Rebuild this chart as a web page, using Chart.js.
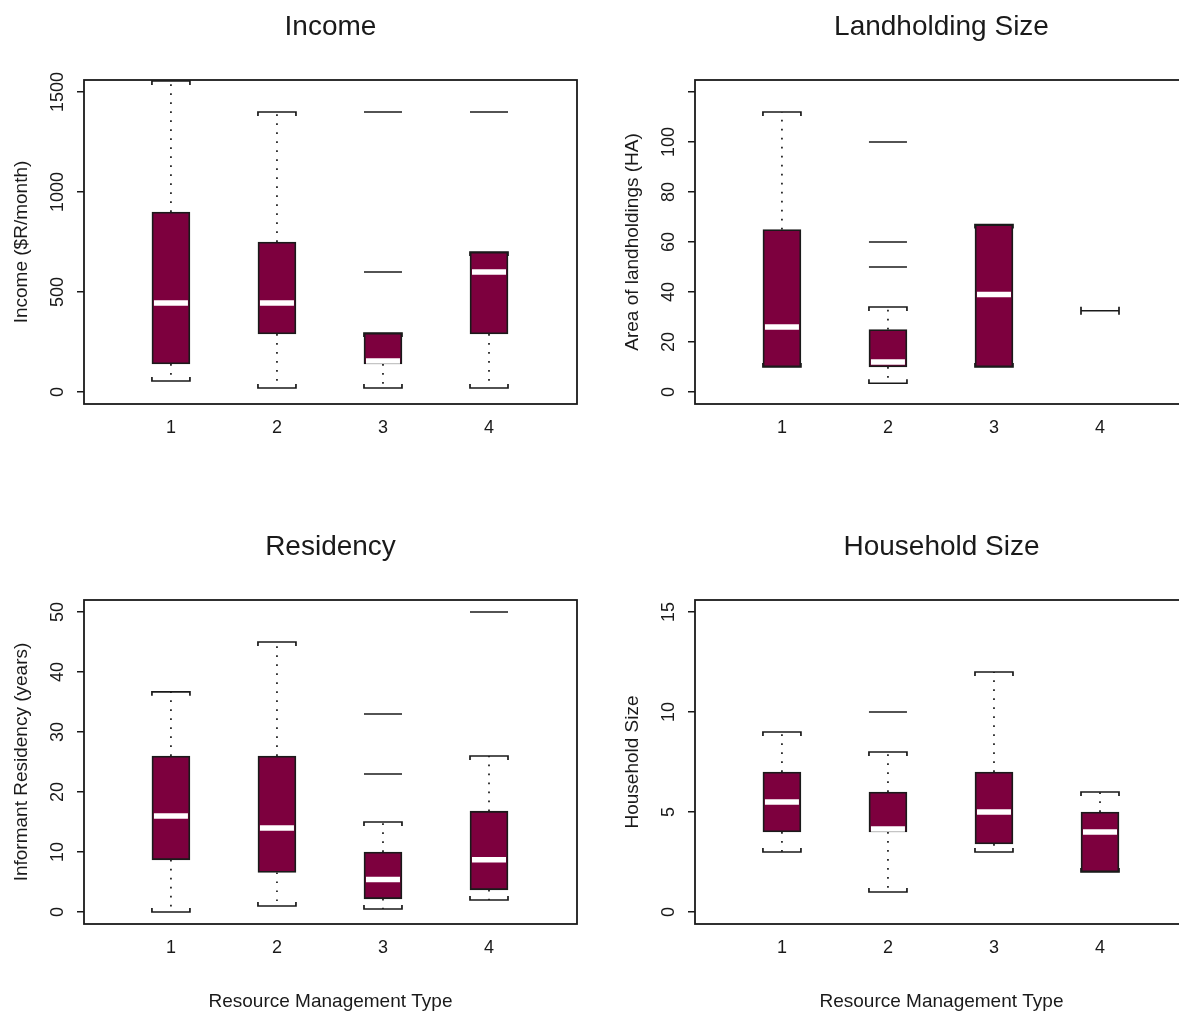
<!DOCTYPE html>
<html>
<head>
<meta charset="utf-8">
<script src="https://cdn.jsdelivr.net/npm/chart.js@4.4.1/dist/chart.umd.min.js"></script>
<style>
  html, body { margin: 0; padding: 0; background: #fff; overflow: hidden; }
  body { width: 1179px; height: 1015px; position: relative; }
  canvas { position: absolute; }
</style>
</head>
<body>
<canvas id="income" width="590" height="495" style="left:0;top:0"></canvas>
<canvas id="land" width="590" height="495" style="left:611px;top:0"></canvas>
<canvas id="resid" width="590" height="495" style="left:0;top:520px"></canvas>
<canvas id="house" width="590" height="495" style="left:611px;top:520px"></canvas>
<script>
const groups = ['1', '2', '3', '4'];

// Income ($R/month)
const incomeLo = [55, 20, 20, 20];
const incomeQ1 = [140, 290, 140, 290];
const incomeMed = [445, 445, 155, 600];
const incomeQ3 = [900, 750, 295, 700];
const incomeHi = [1555, 1400, 295, 700];
const incomeOut = [[3, 600], [3, 1400], [4, 1400]];
const incomeTicks = [0, 500, 1000, 1500];
const incomeTickLabels = ['0', '500', '1000', '1500'];

// Landholding size (HA)
const landLo = [10, 3.5, 10, 32.5];
const landQ1 = [10, 10, 10, 32.5];
const landMed = [26, 12, 39, null];
const landQ3 = [65, 25, 67, 32.5];
const landHi = [112, 34, 67, 32.5];
const landOut = [[2, 100], [2, 60], [2, 50]];
const landTicks = [0, 20, 40, 60, 80, 100, 120];
const landTickLabels = ['0', '20', '40', '60', '80', '100', ''];

// Residency (years)
const residLo = [0, 1, 0.5, 2];
const residQ1 = [8.7, 6.6, 2.2, 3.7];
const residMed = [16, 14, 5.4, 8.7];
const residQ3 = [26, 26, 10, 16.8];
const residHi = [36.7, 45, 15, 26];
const residOut = [[3, 33], [3, 23], [4, 50]];
const residTicks = [0, 10, 20, 30, 40, 50];
const residTickLabels = ['0', '10', '20', '30', '40', '50'];

// Household size
const houseLo = [3, 1, 3, 2];
const houseQ1 = [4, 4, 3.4, 2];
const houseMed = [5.5, 4.15, 5, 4];
const houseQ3 = [7, 6, 7, 5];
const houseHi = [9, 8, 12, 6];
const houseOut = [[2, 10]];
const houseTicks = [0, 5, 10, 15];
const houseTickLabels = ['0', '5', '10', '15'];

const FONT = '"Liberation Sans", Arial, sans-serif';
const INK = '#1a1a1a';
Chart.defaults.font.family = FONT;
Chart.defaults.color = INK;

// whiskers + caps, drawn before the boxes so the boxes cover caps that sit on them
function whiskerPlugin(lo, q1, q3, hi) {
  return {
    id: 'whiskers',
    beforeDatasetsDraw(chart) {
      const {ctx, scales: {x, y}} = chart;
      const bars = chart.getDatasetMeta(2).data;
      ctx.save();
      ctx.strokeStyle = INK;
      groups.forEach((g, i) => {
        const px = x.getPixelForValue(i + 1);
        const half = bars[i].width / 2;
        const yLo = y.getPixelForValue(lo[i]), yQ1 = y.getPixelForValue(q1[i]);
        const yQ3 = y.getPixelForValue(q3[i]), yHi = y.getPixelForValue(hi[i]);
        ctx.lineWidth = 1.7;
        ctx.setLineDash([1.7, 7.3]);
        ctx.beginPath();
        if (hi[i] > q3[i]) { ctx.moveTo(px, yQ3); ctx.lineTo(px, yHi); }
        if (lo[i] < q1[i]) { ctx.moveTo(px, yQ1); ctx.lineTo(px, yLo); }
        ctx.stroke();
        ctx.setLineDash([]);
        ctx.lineWidth = 1.7;
        ctx.beginPath();
        ctx.moveTo(px - half, yHi + 4); ctx.lineTo(px - half, yHi);
        ctx.lineTo(px + half, yHi); ctx.lineTo(px + half, yHi + 4);
        ctx.moveTo(px - half, yLo - 4); ctx.lineTo(px - half, yLo);
        ctx.lineTo(px + half, yLo); ctx.lineTo(px + half, yLo - 4);
        ctx.stroke();
      });
      ctx.restore();
    }
  };
}

// frame round the plot region and y tick labels written along the axis (R style)
function framePlugin(tickLabels) {
  return {
    id: 'frame',
    afterDraw(chart) {
      const {ctx, chartArea: a, scales: {y}} = chart;
      ctx.save();
      ctx.strokeStyle = INK;
      ctx.lineWidth = 1.8;
      ctx.strokeRect(a.left, a.top, a.right - a.left, a.bottom - a.top);
      ctx.font = '18px ' + FONT;
      ctx.fillStyle = INK;
      ctx.textAlign = 'center';
      ctx.textBaseline = 'middle';
      y.ticks.forEach((t, i) => {
        ctx.save();
        ctx.translate(a.left - 26, y.getPixelForValue(t.value));
        ctx.rotate(-Math.PI / 2);
        ctx.fillText(tickLabels[i], 0, 0);
        ctx.restore();
      });
      ctx.restore();
    }
  };
}

function makeBoxplot(id, title, yTitle, xTitle, lo, q1, med, q3, hi, out, ticks, tickLabels, ymin, ymax) {
  const medPts = [];
  med.forEach((m, i) => { if (m !== null) medPts.push({x: i + 1, y: m}); });
  new Chart(document.getElementById(id), {
    type: 'bar',
    data: {
      datasets: [
        {
          type: 'scatter',
          data: out.map(p => ({x: p[0], y: p[1]})),
          pointStyle: 'line', radius: 19, borderColor: INK, borderWidth: 1.7,
          order: 1
        },
        {
          type: 'scatter',
          data: medPts,
          pointStyle: 'line', radius: 17, borderColor: '#ffffff', borderWidth: 5.5,
          order: 2
        },
        {
          type: 'bar',
          data: groups.map((g, i) => ({x: i + 1, y: [q1[i], q3[i]]})),
          backgroundColor: '#7d003e', borderColor: INK, borderWidth: 1.8,
          borderSkipped: false, barThickness: 38,
          order: 3
        }
      ]
    },
    options: {
      responsive: false,
      animation: false,
      events: [],
      layout: { autoPadding: false, padding: { left: 0, right: 13, top: 0, bottom: 0 } },
      plugins: {
        legend: { display: false },
        tooltip: { enabled: false },
        title: {
          display: true, text: title, color: INK, fullSize: false,
          font: { size: 28, weight: 'normal' },
          padding: { top: 10, bottom: 36.4 }
        }
      },
      scales: {
        x: {
          type: 'linear', min: 0.18, max: 4.83, offset: false,
          afterBuildTicks: s => { s.ticks = groups.map((g, i) => ({value: i + 1})); },
          afterFit: s => { s.height = 91; s.paddingLeft = 0; s.paddingRight = 0; },
          ticks: {
            callback: (v, i) => groups[i],
            font: { size: 18 }, color: INK, padding: 13,
            maxRotation: 0, autoSkip: false
          },
          grid: { display: false, drawTicks: false, offset: false },
          border: { display: false },
          title: {
            display: !!xTitle, text: xTitle, color: INK,
            font: { size: 19 }, padding: { top: 0, bottom: 2 }
          }
        },
        y: {
          min: ymin, max: ymax,
          afterBuildTicks: s => { s.ticks = ticks.map(v => ({value: v})); },
          afterFit: s => { s.width = 84; s.paddingTop = 0; s.paddingBottom = 0; },
          ticks: { display: false },
          grid: { drawOnChartArea: false, drawTicks: true, tickLength: 7, color: INK, lineWidth: 1.5 },
          border: { display: false },
          title: {
            display: true, text: yTitle, color: INK,
            font: { size: 19 }, padding: { top: 10, bottom: 0 }
          }
        }
      }
    },
    plugins: [whiskerPlugin(lo, q1, q3, hi), framePlugin(tickLabels)]
  });
}

makeBoxplot('income', 'Income', 'Income ($R/month)', '',
  incomeLo, incomeQ1, incomeMed, incomeQ3, incomeHi, incomeOut, incomeTicks, incomeTickLabels, -60, 1560);
makeBoxplot('land', 'Landholding Size', 'Area of landholdings (HA)', '',
  landLo, landQ1, landMed, landQ3, landHi, landOut, landTicks, landTickLabels, -4.8, 124.8);
makeBoxplot('resid', 'Residency', 'Informant Residency (years)', 'Resource Management Type',
  residLo, residQ1, residMed, residQ3, residHi, residOut, residTicks, residTickLabels, -2, 52);
makeBoxplot('house', 'Household Size', 'Household Size', 'Resource Management Type',
  houseLo, houseQ1, houseMed, houseQ3, houseHi, houseOut, houseTicks, houseTickLabels, -0.6, 15.6);
</script>
</body>
</html>
